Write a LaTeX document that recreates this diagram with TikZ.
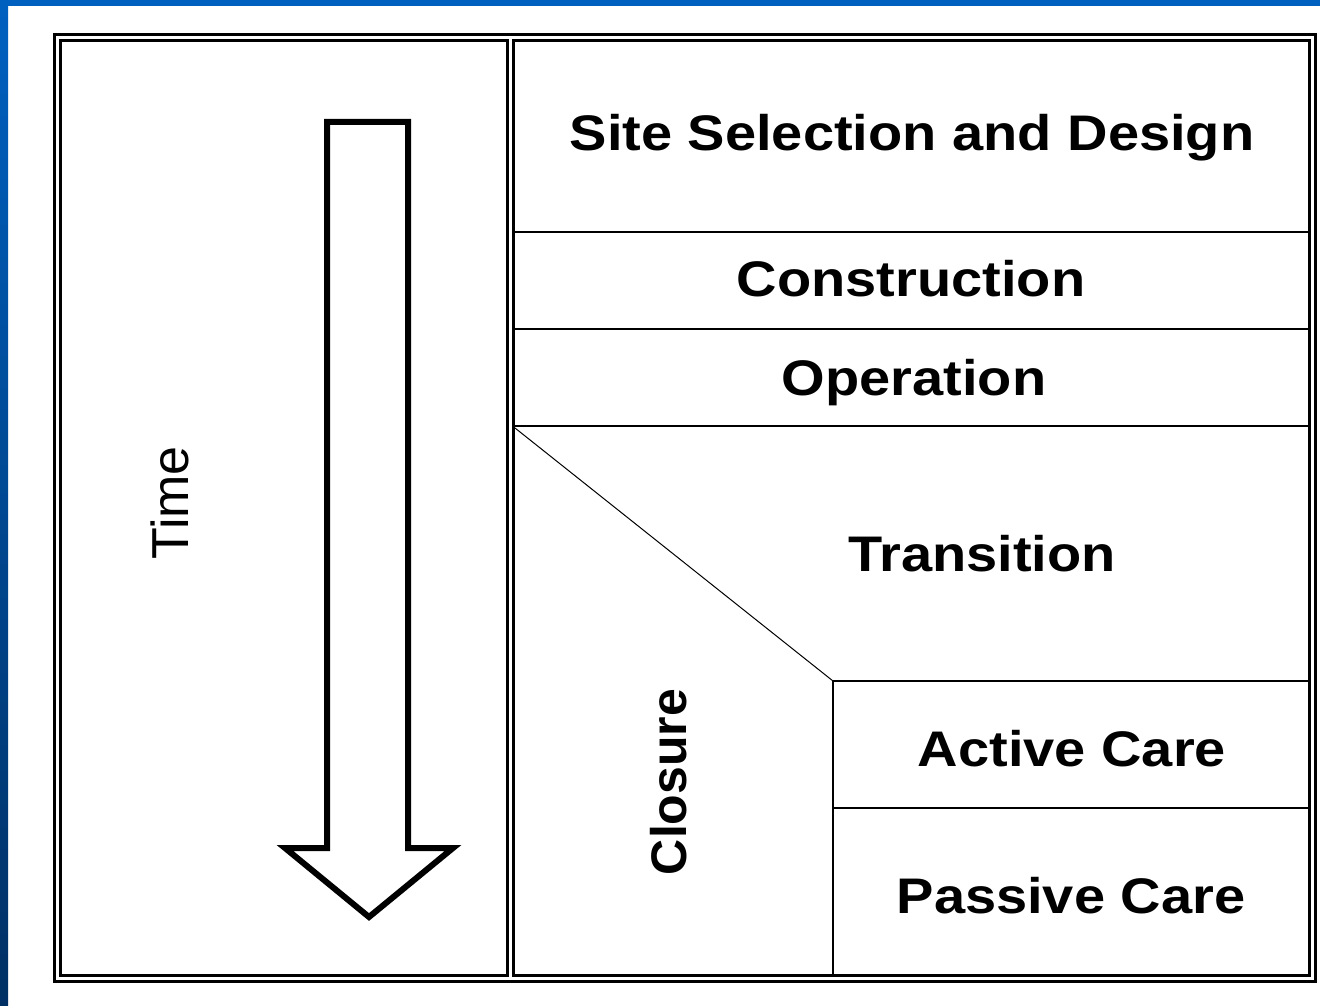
\documentclass[tikz,border=0pt]{standalone}
\usepackage{fontspec}
\setmainfont{Liberation Sans}
\newfontfamily\widesans[FakeStretch=1.12]{Liberation Sans}
\usepackage{tikz}
\usetikzlibrary{positioning}

\definecolor{slideblue}{RGB}{0,96,192}
\definecolor{slidedark}{RGB}{0,48,100}

\begin{document}
\begin{tikzpicture}[x=1pt, y=-1pt, inner sep = 0pt,
    phase/.style={font=\widesans\bfseries\fontsize{50}{60}\selectfont, anchor=base},
    frame/.style={line width=3pt},
    divider/.style={line width=2pt}]
    \useasboundingbox (0,0) rectangle (1320,1006);
    \fill[white] (0,0) rectangle (1320,1006);
    % slide background strips
    \fill[slideblue] (0,0) rectangle (1320,6);
    \shade[top color=slideblue, bottom color=slidedark] (0,0) rectangle (8,1006);

    % double frame
    \draw[frame] (54.5,34.5) rectangle (1315.5,981.5);
    \draw[frame] (60.5,40.5) rectangle (507.5,975.5);
    \draw[frame] (513.5,40.5) rectangle (1309.5,975.5);

    % phase rows
    \draw[divider] (513,232) -- (1310,232);
    \draw[divider] (513,329) -- (1310,329);
    \draw[divider] (513,426) -- (1310,426);
    \draw[divider] (833,681) -- (1310,681);
    \draw[divider] (833,808) -- (1310,808);
    \draw[divider] (833,681) -- (833,976);
    \draw[line width=1pt] (515,428) -- (833,681);

    % time arrow
    \draw[line width=6pt, line join=miter]
        (327,122) -- (408,122) -- (408,848) -- (453,848) -- (369,917)
        -- (285,848) -- (327,848) -- cycle;

    \node[font=\fontsize{52}{60}\selectfont, rotate=90, anchor=base] (time) at (188,503) {Time};
    \node[phase, rotate=90, font=\bfseries\fontsize{50}{60}\selectfont] (closure) at (686,782) {Closure};

    \node[phase] (site) at (912,151) {Site Selection and Design};
    \node[phase] (constr) at (911,296) {Construction};
    \node[phase] (oper) at (914,395) {Operation};
    \node[phase] (trans) at (982,571) {Transition};
    \node[phase] (active) at (1072,766) {Active Care};
    \node[phase] (passive) at (1071,913) {Passive Care};
\end{tikzpicture}
\end{document}
